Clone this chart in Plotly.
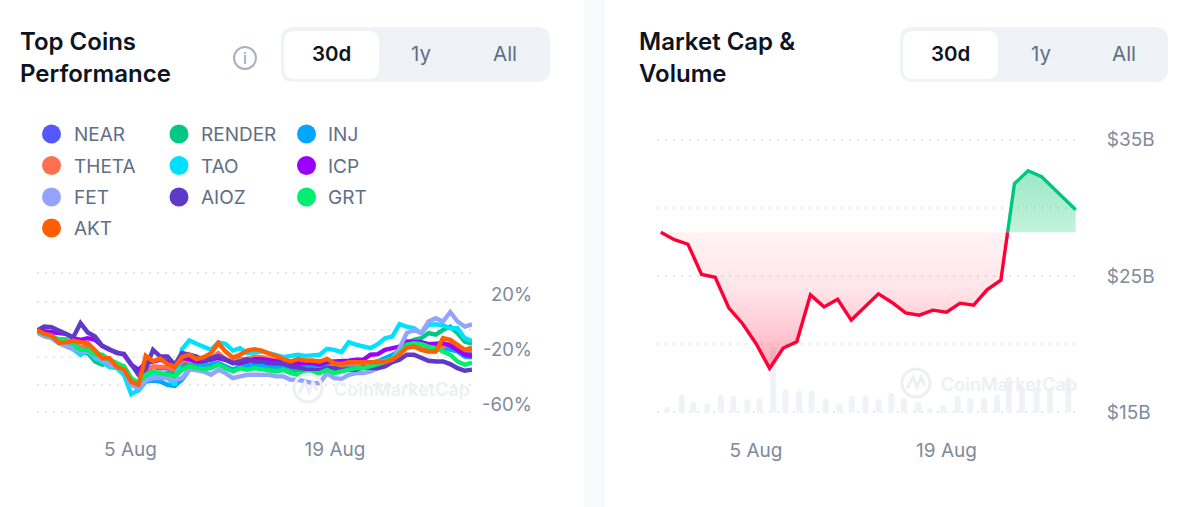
import pandas as pd
import numpy as np
import plotly.graph_objects as go

W, H = 1200, 507

# ---- Top Coins Performance (percent change, read every ~12h) ----
near = [-0.5, -2.5, -4.5, -7.5, -8.5, -10, -13, -12, -16, -19.5, -22, -25.5, -27, -36, -39, -30, -27, -28, -28, -30,
        -25, -22, -23, -22, -22, -20, -22, -24, -23, -22, -21, -21, -22, -23, -24, -25, -24, -24, -24, -25,
        -24, -26, -26, -25, -25, -24, -24, -23, -21, -19, -15, -11, -10, -10, -12, -12, -12, -12, -14, -16, -17]
render = [-1.5, -3.6, -4.9, -8.5, -9.7, -12.2, -15.8, -17, -23.1, -25.5, -24.3, -26.8, -29.2, -36.5, -40.1, -34, -31.6, -32.8, -31.6, -32.8,
          -28, -25.5, -25.5, -26.3, -25.5, -24.3, -26.8, -29.2, -26.8, -26.8, -26.8, -28, -28.7, -29.2, -29.2, -30.4, -29.2, -29.2, -28.7, -29.2,
          -28, -29.2, -28, -28, -26.8, -26.8, -25, -23.6, -21.2, -19.5, -14.6, -9.7, -7.3, -6.1, -2.4, -3.6, 0, 2.4, -2.4, -8.5, -10]
inj = [-1.2, -2.9, -4.9, -8.5, -10.9, -12.7, -17, -15.8, -19.5, -21.9, -25.5, -27.3, -29.2, -37.7, -43.8, -37.7, -37, -37.7, -40.1, -40.9,
       -36.5, -29.2, -26.8, -26.8, -25.5, -24.3, -26.8, -29.2, -26.8, -25.5, -25.5, -25.5, -25.5, -26.8, -26.8, -26.8, -25.5, -25.5, -25.5, -25.5,
       -25.5, -26.8, -28, -27.5, -26.8, -24.3, -24.3, -23.1, -20.7, -18.2, -15.8, -12.2, -10.9, -9.7, -12.2, -12.2, -13.4, -14.6, -15.8, -19.5, -20]
theta = [-0.5, -2.4, -4.4, -7.8, -8.5, -9.7, -12.7, -10.9, -15.8, -19.5, -21.9, -25.5, -26.8, -36.5, -38.9, -29.2, -26.8, -26.8, -27.3, -29.2,
         -23.1, -21.9, -22.4, -20.7, -20.7, -17, -21.4, -23.1, -21.4, -21.4, -19.5, -20, -21.4, -22.4, -23.1, -24.3, -23.1, -23.1, -22.4, -23.1,
         -23.1, -25, -25.5, -25, -25, -24.3, -25, -23.1, -23.1, -20.7, -17, -12.9, -10.9, -12.2, -13.4, -13.4, -12.2, -9.7, -12.2, -14.6, -15]
tao = [-1.9, -3.6, -5.4, -9.7, -11.7, -14.1, -18.2, -15.1, -20.7, -23.1, -27.3, -28, -32.8, -47, -44, -37.7, -32.8, -32.8, -35.3, -40.1,
       -14.1, -7.8, -10.2, -12.7, -14.6, -9.2, -10.2, -15.1, -13.4, -17, -16.5, -15.8, -17, -18.2, -20, -19, -18.2, -19, -19, -18.2,
       -13.9, -14.6, -16.3, -9, -10.9, -12.2, -13.4, -10.5, -6.1, -4.9, 4.1, 2.4, 1.2, -2.4, 3.6, 4.1, 3.2, 1.2, 1.2, -6.1, -8]
icp = [-0.5, -1.2, -1.9, -2.9, -2.9, -6.1, -7.3, -6.1, -7.3, -11.7, -14.6, -16.5, -18.2, -25.5, -29.2, -24.3, -23.1, -21.9, -23.1, -26.8,
       -20.7, -21.4, -23.1, -23.1, -21.4, -20.7, -21.9, -24.3, -24.3, -23.1, -21.4, -21.4, -22.4, -23.1, -23.1, -24.3, -24.3, -24.3, -24.3, -25.5,
       -23.6, -23.1, -23.1, -22.6, -21.9, -21.9, -18.2, -17.8, -14.6, -13.4, -12.2, -8.5, -9, -9, -10.5, -9.7, -9.7, -11.4, -14.6, -18.2, -19]
fet = [-1.9, -4.9, -6.1, -9.7, -11.7, -13.4, -15.8, -15.8, -19.5, -21.9, -25.5, -27.3, -29.2, -40.1, -42.6, -37, -35.3, -35.3, -35.3, -36.5,
       -35.3, -28.7, -29.2, -30.4, -32.8, -29.2, -31.6, -35.3, -34, -32.8, -32.8, -32.8, -32.8, -34, -34, -36.5, -36.5, -37.7, -38.9, -38.9,
       -31.6, -35.3, -35.8, -32.8, -31.6, -31.6, -30.4, -28, -24.3, -21.9, -13.4, -2.4, 0, -2.4, 6.1, 8.5, 6.1, 13, 6.1, 2.4, 4]
aioz = [-0.5, 2.4, 1.9, -0.5, -3.6, -5.4, 4.9, -1.9, -4.9, -11.7, -14.1, -17, -17.5, -25.5, -32.8, -28.7, -14.6, -19.5, -19.5, -25.5,
        -17, -18.2, -19.5, -22.4, -20.7, -19, -21.4, -24.3, -23.1, -21.4, -23.1, -23.1, -24.3, -24.3, -24.8, -26.8, -27.3, -28.7, -28.7, -29.2,
        -28, -28, -29.2, -29.2, -29.2, -27.5, -28, -28, -26.8, -23.6, -21.9, -18.2, -18.2, -20.7, -22.6, -23.1, -23.1, -25, -28, -29.9, -29]
grt = [-1.2, -2.9, -4.4, -6.8, -6.8, -10.9, -14.6, -14.6, -18.2, -18.2, -21.9, -24.3, -26.8, -35.3, -38.9, -32.8, -30.4, -31.6, -32.8, -34,
       -29.2, -26.8, -28, -28.7, -28, -25.5, -28, -30.4, -28, -29.2, -28, -28.7, -29.2, -30.4, -29.2, -31.6, -32.8, -31.6, -31.6, -31.6,
       -29.2, -31.6, -30.4, -29.2, -28, -28, -26.8, -25, -22.6, -21.2, -17, -10.9, -9.7, -10.5, -12.2, -13.4, -15.8, -18.2, -23.1, -25.5, -24]
akt = [0, -3, -4, -9.5, -9.2, -8, -9, -9.7, -15, -20.7, -20.7, -27, -29, -38, -40, -19, -23, -21, -25, -27,
       -20, -18.2, -21.4, -20, -17, -9.7, -15.8, -20.2, -18.2, -15.1, -14.1, -15.1, -17.5, -19, -21.4, -23.1, -21.4, -22.4, -22.4, -23.1,
       -21.2, -24.3, -25, -23.6, -23.6, -23.6, -23.6, -23.6, -23.6, -21.9, -18.2, -12.9, -12.2, -14.6, -15.8, -15.8, -6, -7.3, -10.9, -14.6, -13]

coins = ["NEAR", "RENDER", "INJ", "THETA", "TAO", "ICP", "FET", "AIOZ", "GRT", "AKT"]
coin_values = [near, render, inj, theta, tao, icp, fet, aioz, grt, akt]
coin_colors = ["#5359ff", "#00c882", "#00a6ff", "#ff6f50", "#00e0ff", "#9900ff", "#93a3ff", "#5f39c8", "#00ee6e", "#ff5f00"]

perf_start = "2024-07-29 14:30"
perf_end = "2024-08-28 09:00"
perf_ticks = [-60, -40, -20, 0, 20, 41.5]
perf_labels = {20: "20%", -20: "-20%", -60: "-60%"}

# ---- Market Cap & Volume ($B, daily) ----
mcap = [28.2, 27.66, 27.32, 25.1, 24.9, 22.66, 21.51, 20.05, 18.22, 19.71, 20.17, 23.61, 22.73, 23.29, 21.76, 22.71,
        23.68, 23.05, 22.29, 22.12, 22.49, 22.34, 23.0, 22.85, 24.0, 24.68, 31.76, 32.71, 32.27, 31.3, 30.3, 29.85]
mcap_hours = [24 * i for i in range(31)] + [732]
volume = [0.85, 2.65, 1.6, 1.35, 2.65, 2.45, 1.95, 2.1, 9.85, 3.45, 3.25, 3.25, 2.1, 1.35, 2.45, 2.45,
          1.95, 2.95, 2.2, 1.6, 0.6, 1.1, 2.45, 2.15, 2.15, 2.65, 5.35, 3.85, 3.85, 3.6, 5.25]
volume_hours = [11.5, 36.9, 57.4, 82, 106, 128, 153, 174, 198.5, 220, 244, 266, 291, 315, 337, 361,
                384, 407, 429, 454, 475, 498, 524, 546, 570, 593, 614, 637, 663, 687, 719]
mcap_base = 28.2
t0 = pd.Timestamp("2024-07-29")

GRID = "#e3e6ec"
TICK = "#808a9d"
DARK = "#0d1421"
GREY = "#616e85"
PILL = "#eff2f7"


def px(x):
    return x / W


def py(y):
    return 1 - y / H


def pill(x0, y0, x1, y1, r):
    # rounded box as an svg path, paper coords
    a, b, c, d = px(x0), py(y0), px(x1), py(y1)
    rx, ry = r / W, r / H
    return (f"M{a+rx},{b} L{c-rx},{b} Q{c},{b} {c},{b-ry} L{c},{d+ry} Q{c},{d} {c-rx},{d} "
            f"L{a+rx},{d} Q{a},{d} {a},{d+ry} L{a},{b-ry} Q{a},{b} {a+rx},{b} Z")


shapes = []
notes = []


def label(x, y, text, size, color, anchor="left", weight=400):
    notes.append(dict(x=px(x), y=py(y), xref="paper", yref="paper", text=text, showarrow=False, borderpad=0,
                      xanchor=anchor, yanchor="middle", font=dict(family="Inter", size=size, color=color, weight=weight)))


def box(path, fill):
    shapes.append(dict(type="path", path=path, xref="paper", yref="paper", fillcolor=fill, line_width=0, layer="below"))


def toggle(x0, x1, white_x0, white_x1, xs):
    box(pill(x0, 27, x1, 82, 13), PILL)
    box(pill(white_x0, 31, white_x1, 79, 11), "#ffffff")
    label(xs[0], 54, "30d", 20.5, DARK, "center", 600)
    label(xs[1], 54, "1y", 20.5, GREY, "center")
    label(xs[2], 54, "All", 20.5, GREY, "center")


def watermark(cx, cy, tx):
    col = "#edeff3"
    r = 14
    shapes.append(dict(type="circle", xref="paper", yref="paper", x0=px(cx - r), x1=px(cx + r), y0=py(cy + r), y1=py(cy - r),
                       line=dict(color=col, width=3), layer="above"))
    shapes.append(dict(type="path", xref="paper", yref="paper", layer="above", line=dict(color=col, width=3),
                       path=f"M{px(cx-9)},{py(cy+5)} L{px(cx-3)},{py(cy-6)} L{px(cx+1)},{py(cy+4)} L{px(cx+5)},{py(cy-6)} L{px(cx+9)},{py(cy+3)}"))
    label(tx, cy + 1, "CoinMarketCap", 18, col, "left", 600)


# page furniture
shapes.append(dict(type="rect", xref="paper", yref="paper", x0=px(584), x1=px(605), y0=0, y1=1,
                   fillcolor="#f8f9fc", line_width=0, layer="below"))
label(19, 42, "Top Coins", 24, DARK, "left", 600)
label(19, 74, "Performance", 24, DARK, "left", 600)
label(638, 42, "Market Cap &", 24, DARK, "left", 600)
label(638, 74, "Volume", 24, DARK, "left", 600)
toggle(281, 550, 284, 379, [331, 421, 505])
toggle(900, 1168, 903, 998, [950, 1041, 1124])

# info icon
shapes.append(dict(type="circle", xref="paper", yref="paper", x0=px(234), x1=px(256), y0=py(69), y1=py(47),
                   line=dict(color="#a6b0c3", width=2)))
label(245, 58, "i", 15, "#a6b0c3", "center", 600)

# legend dots, filled row by row
legend_x = [51.5, 179, 306.5]
legend_y = [134, 165.5, 197, 228]
for i, (coin, col) in enumerate(zip(coins, coin_colors)):
    lx, ly = legend_x[i % 3], legend_y[i // 3]
    shapes.append(dict(type="circle", xref="paper", yref="paper", x0=px(lx - 9.5), x1=px(lx + 9.5), y0=py(ly + 9.5), y1=py(ly - 9.5),
                       fillcolor=col, line_width=0))
    label(lx + 21, ly + 0.5, coin, 19, GREY)

watermark(308, 388, 333)
watermark(916, 383, 940)

fig = go.Figure()

# left chart
dates = pd.date_range(perf_start, perf_end, periods=len(akt))
for coin, vals, col in zip(coins, coin_values, coin_colors):
    fig.add_trace(go.Scatter(x=dates, y=vals, name=coin, mode="lines", line=dict(color=col, width=4.4),
                             xaxis="x", yaxis="y", showlegend=False))

for val, txt in perf_labels.items():
    notes.append(dict(x=px(533), xref="paper", y=val, yref="y", yshift=8, text=txt, showarrow=False, xanchor="right", borderpad=0,
                      font=dict(family="Inter", size=18.5, color=TICK)))

# right chart
fig.add_trace(go.Bar(x=t0 + pd.to_timedelta(volume_hours, unit="h"), y=volume, width=6 / 13.6 * 86400000,
                     marker=dict(color="#eff2f7", line_width=0), xaxis="x2", yaxis="y2", showlegend=False))

# split the line where it crosses the opening value
mcap_x = np.array(mcap_hours, dtype=float)
mcap_y = np.array(mcap)
up = int(np.argmax(mcap_y > mcap_base))
cross = mcap_x[up - 1] + (mcap_base - mcap_y[up - 1]) / (mcap_y[up] - mcap_y[up - 1]) * 24
red_x = t0 + pd.to_timedelta(list(mcap_x[:up]) + [cross], unit="h")
red_y = list(mcap_y[:up]) + [mcap_base]
green_x = t0 + pd.to_timedelta([cross] + list(mcap_x[up:]), unit="h")
green_y = [mcap_base] + list(mcap_y[up:])

parts = [
    (red_x, red_y, "#ff0036",
     [[0, "rgba(255,0,50,0.34)"], [0.3, "rgba(255,0,50,0.2)"], [0.6, "rgba(255,0,50,0.1)"], [1, "rgba(255,0,50,0.05)"]], 18.2, mcap_base),
    (green_x, green_y, "#00c77f", [[0, "rgba(0,199,110,0.23)"], [1, "rgba(0,199,110,0.4)"]], mcap_base, 32.7),
]
for xs, ys, col, scale, start, stop in parts:
    fig.add_trace(go.Scatter(x=xs, y=[mcap_base] * len(xs), mode="lines", line_width=0, xaxis="x2", yaxis="y3",
                             showlegend=False, hoverinfo="skip"))
    fig.add_trace(go.Scatter(x=xs, y=ys, mode="lines", line=dict(color=col, width=3.4), fill="tonexty",
                             fillgradient=dict(type="vertical", colorscale=scale, start=start, stop=stop),
                             xaxis="x2", yaxis="y3", showlegend=False))

tick_style = dict(family="Inter", size=19, color=TICK)
fig.update_layout(
    width=W, height=H, margin=dict(l=0, r=0, t=0, b=0, autoexpand=False), paper_bgcolor="#ffffff", plot_bgcolor="rgba(0,0,0,0)",
    barcornerradius=3, shapes=shapes, annotations=notes,
    xaxis=dict(domain=[px(37), px(472)], anchor="y", type="date", range=[perf_start, perf_end], showgrid=False, zeroline=False, showline=False,
               tickvals=["2024-08-05", "2024-08-19"], ticktext=["5 Aug", "19 Aug"], tickfont=tick_style,
               ticks="outside", ticklen=17, tickcolor="rgba(0,0,0,0)"),
    yaxis=dict(domain=[py(414.74), py(270.26)], anchor="x", range=[-62, 43.5], tickvals=perf_ticks, showticklabels=False,
               showgrid=True, gridcolor=GRID, griddash="2px,6px", gridwidth=1.5, zeroline=False),
    xaxis2=dict(domain=[px(657), px(1077)], anchor="y2", type="date", range=["2024-07-28 17:20", "2024-08-28 14:20"], showgrid=False, zeroline=False,
                tickvals=["2024-08-05", "2024-08-19"], ticktext=["5 Aug", "19 Aug"], tickfont=tick_style,
                ticks="outside", ticklen=14, tickcolor="rgba(0,0,0,0)"),
    yaxis2=dict(domain=[py(419.12), py(132.68)], anchor="x2", range=[-1.02, 41.92], showticklabels=False, showgrid=False, zeroline=False),
    yaxis3=dict(overlaying="y2", anchor="x2", side="right", range=[14.5, 35.5], tickvals=[15, 20, 25, 30, 35],
                ticktext=["$15B", "", "$25B", "", "$35B"], tickfont=tick_style, ticks="outside", ticklen=25, tickcolor="rgba(0,0,0,0)",
                showgrid=True, gridcolor=GRID, griddash="2px,6px", gridwidth=1.5, zeroline=False),
)

fig.write_html("out.html", config=dict(displayModeBar=False), post_script="document.body.style.margin='0';")
